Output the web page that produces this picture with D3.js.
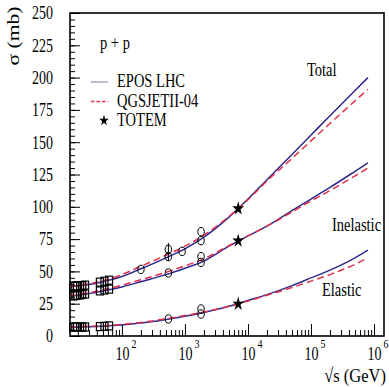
<!DOCTYPE html>
<html>
<head>
<meta charset="utf-8">
<script src="https://cdn.jsdelivr.net/npm/d3@7"></script>
<style>
  body { margin: 0; background: #fff; }
  text { font-family: "Liberation Serif", "Times New Roman", serif; fill: #000; }
</style>
</head>
<body>
<div id="chart"></div>
<script>
// sqrt(s) grid for model curves (GeV)
var energies = [15, 20, 30, 50, 100, 200, 500, 1000, 2000, 5000, 10000, 20000, 50000, 100000, 200000, 500000, 800000];

// EPOS LHC (solid blue)
var eposTotal = [38.5, 38.8, 39.8, 42, 46, 52, 60.5, 67.5, 76.5, 92, 106, 121, 140.5, 155.5, 170.5, 190, 200];
var eposInel  = [30.5, 31.5, 32.8, 34.8, 38, 42, 47.5, 52.5, 58, 69.5, 77.5, 85, 97, 106, 115, 127.5, 134];
var eposEl    = [7, 7, 7.2, 7.6, 8.5, 10, 12.8, 15.2, 18.2, 23, 27.5, 32, 39, 45, 51, 60.5, 66.5];

// QGSJETII-04 (dashed red)
var qgsTotal = [38.8, 39.2, 40.3, 42.8, 47.5, 54, 62.5, 69.5, 78, 92.5, 105.5, 120, 137.5, 151, 164.5, 182, 191];
var qgsInel  = [31, 32, 33.5, 35.8, 39.3, 43.5, 49.3, 54.3, 59.8, 70, 77.5, 85, 96, 104.5, 112.5, 124, 130];
var qgsEl    = [7.2, 7.3, 7.5, 8, 9, 10.5, 13.3, 15.8, 18.6, 23, 27, 31.5, 37.5, 42.5, 47.5, 55.5, 60.5];

// low energy data (open squares)
var sqE     = [16.8, 18.2, 19.4, 21.7, 23.5, 26.0, 44.7, 52.8, 62.5];
var sqTotal = [38.5, 38.7, 38.9, 39.0, 38.9, 39.4, 41.7, 42.4, 43.2];
var sqInel  = [31.0, 31.3, 31.5, 31.8, 32.2, 32.5, 34.9, 35.6, 36.3];
var sqEl    = [6.9, 7.0, 7.0, 7.0, 6.8, 7.0, 7.3, 7.5, 7.8];

// collider data (open circles)
var ciE     = [200, 546, 546, 900, 1800, 1800, 546, 1800, 1800, 546, 1800, 1800];
var ciSigma = [51.6, 61.5, 67, 65.5, 73.8, 80.7, 48.8, 57.0, 61.4, 13.2, 17.0, 20.9];

// TOTEM (stars)
var totemE = [7000, 7000, 7000];
var totemSigma = [98.6, 73.7, 24.8];

var yMajor = [0, 25, 50, 75, 100, 125, 150, 175, 200, 225, 250];
var xMajor = [100, 1000, 10000, 100000, 1000000];
var xExp = ["2", "3", "4", "5", "6"];

var margin = { top: 13, right: 5, bottom: 51, left: 70 },
    width = 389 - margin.left - margin.right,
    height = 387 - margin.top - margin.bottom;

var sy = 1.3;

var svg = d3.select("#chart")
    .append("svg")
    .attr("width", width + margin.left + margin.right)
    .attr("height", height + margin.top + margin.bottom)
    .append("g")
    .attr("transform", "translate(" + margin.left + "," + margin.top + ")");

var x = d3.scaleLog().domain([15, 1.44e6]).range([0, width]);
var y = d3.scaleLinear().domain([0, 250]).range([height, 0]);

// minor ticks
var xMinor = [];
[10, 100, 1000, 10000, 100000, 1000000].forEach(function (p) {
    for (var k = 2; k <= 9; k++) {
        var v = p * k;
        if (v >= 15 && v <= 1.44e6) xMinor.push(v);
    }
});

svg.append("g")
    .attr("transform", "translate(0," + height + ")")
    .call(d3.axisBottom(x).tickValues(xMinor).tickSize(-6).tickSizeOuter(0).tickFormat(""));

var xAx = svg.append("g")
    .attr("transform", "translate(0," + height + ")")
    .call(d3.axisBottom(x).tickValues(xMajor).tickSize(-12).tickSizeOuter(0).tickFormat(""));

xAx.selectAll(".tick").each(function (d, i) {
    var g = d3.select(this);
    g.append("text")
        .attr("transform", "translate(0,18) scale(1," + sy + ")")
        .attr("text-anchor", "middle")
        .attr("dy", "0.35em")
        .style("font-size", "14px")
        .text("10");
    g.append("text")
        .attr("transform", "translate(9,7) scale(1," + sy + ")")
        .attr("text-anchor", "start")
        .attr("dy", "0.35em")
        .style("font-size", "10px")
        .text(xExp[i]);
});

svg.append("g")
    .call(d3.axisLeft(y).tickValues(d3.range(0, 251, 5)).tickSize(-5).tickSizeOuter(0).tickFormat(""));

var yAx = svg.append("g")
    .call(d3.axisLeft(y).tickValues(yMajor).tickSize(-10).tickSizeOuter(0).tickPadding(17));

yAx.selectAll("text")
    .style("font-size", "14px")
    .attr("transform", "scale(1,1.3)");

svg.selectAll(".domain").remove();
svg.selectAll(".tick line").attr("stroke", "#000").attr("stroke-width", 1);

// frame
svg.append("rect")
    .attr("width", width)
    .attr("height", height)
    .attr("fill", "none")
    .attr("stroke", "#000")
    .attr("stroke-width", 1.6);

// curves
var line = d3.line()
    .x(function (d) { return x(d[0]); })
    .y(function (d) { return y(d[1]); })
    .curve(d3.curveMonotoneX);

var blue = "#2e2a8c", red = "#e0304a";

[eposTotal, eposInel, eposEl].forEach(function (s) {
    svg.append("path")
        .datum(energies.map(function (e, i) { return [e, s[i]]; }))
        .attr("fill", "none")
        .attr("stroke", blue)
        .attr("stroke-width", 1.5)
        .attr("d", line);
});

[qgsTotal, qgsInel, qgsEl].forEach(function (s) {
    svg.append("path")
        .datum(energies.map(function (e, i) { return [e, s[i]]; }))
        .attr("fill", "none")
        .attr("stroke", red)
        .attr("stroke-width", 1.5)
        .attr("stroke-dasharray", "7,4")
        .attr("d", line);
});

// squares
[sqTotal, sqInel, sqEl].forEach(function (s) {
    svg.selectAll(null)
        .data(sqE.map(function (e, i) { return [e, s[i]]; }))
        .enter()
        .append("rect")
        .attr("x", function (d) { return x(d[0]) - 3.5; })
        .attr("y", function (d) { return y(d[1]) - 4; })
        .attr("width", 7)
        .attr("height", 8)
        .attr("fill", "none")
        .attr("stroke", "#000")
        .attr("stroke-width", 1.2);
});

// circles
svg.selectAll(null)
    .data(ciE.map(function (e, i) { return [e, ciSigma[i]]; }))
    .enter()
    .append("ellipse")
    .attr("cx", function (d) { return x(d[0]); })
    .attr("cy", function (d) { return y(d[1]); })
    .attr("rx", 3.2)
    .attr("ry", 4.2)
    .attr("fill", "none")
    .attr("stroke", "#000")
    .attr("stroke-width", 1);

// error bar on 546 GeV total
svg.append("line")
    .attr("x1", x(546)).attr("x2", x(546))
    .attr("y1", y(72)).attr("y2", y(58))
    .attr("stroke", "#000").attr("stroke-width", 1);

// stars
var star = d3.symbol().type(d3.symbolStar).size(42);
svg.selectAll(null)
    .data(totemE.map(function (e, i) { return [e, totemSigma[i]]; }))
    .enter()
    .append("path")
    .attr("d", star)
    .attr("transform", function (d) { return "translate(" + x(d[0]) + "," + y(d[1]) + ") scale(1,1.2)"; })
    .attr("fill", "#000");

// labels on curves
function label(txt, px, py, size, anchor) {
    svg.append("text")
        .attr("transform", "translate(" + px + "," + py + ") scale(1," + sy + ")")
        .attr("text-anchor", anchor || "start")
        .style("font-size", size + "px")
        .text(txt);
}

label("Total", 237, 63, 14.5);
label("Inelastic", 262, 218, 14.5);
label("Elastic", 252, 283, 14.5);
label("p + p", 30, 36, 14.5);

// legend
svg.append("line")
    .attr("x1", 21).attr("x2", 38).attr("y1", 69).attr("y2", 69)
    .attr("stroke", "#7a7aa8").attr("stroke-width", 1);
svg.append("line")
    .attr("x1", 21).attr("x2", 38).attr("y1", 88.5).attr("y2", 88.5)
    .attr("stroke", red).attr("stroke-width", 1.3)
    .attr("stroke-dasharray", "3.5,2");
svg.append("path")
    .attr("d", d3.symbol().type(d3.symbolStar).size(28))
    .attr("transform", "translate(34,107.5) scale(1,1.2)")
    .attr("fill", "#000");
label("EPOS LHC", 47, 74, 14.5);
label("QGSJETII-04", 47, 93.5, 14.5);
label("TOTEM", 47, 113, 14.5);

// axis titles
svg.append("text")
    .attr("transform", "translate(" + (-51) + "," + 23 + ") rotate(-90) scale(1.35,1)")
    .attr("text-anchor", "middle")
    .style("font-size", "16px")
    .text("σ (mb)");

svg.append("text")
    .attr("transform", "translate(" + (width + 2) + "," + (height + 46) + ") scale(1,1.2)")
    .attr("text-anchor", "end")
    .style("font-size", "16.5px")
    .text("√s (GeV)");
</script>
</body>
</html>
